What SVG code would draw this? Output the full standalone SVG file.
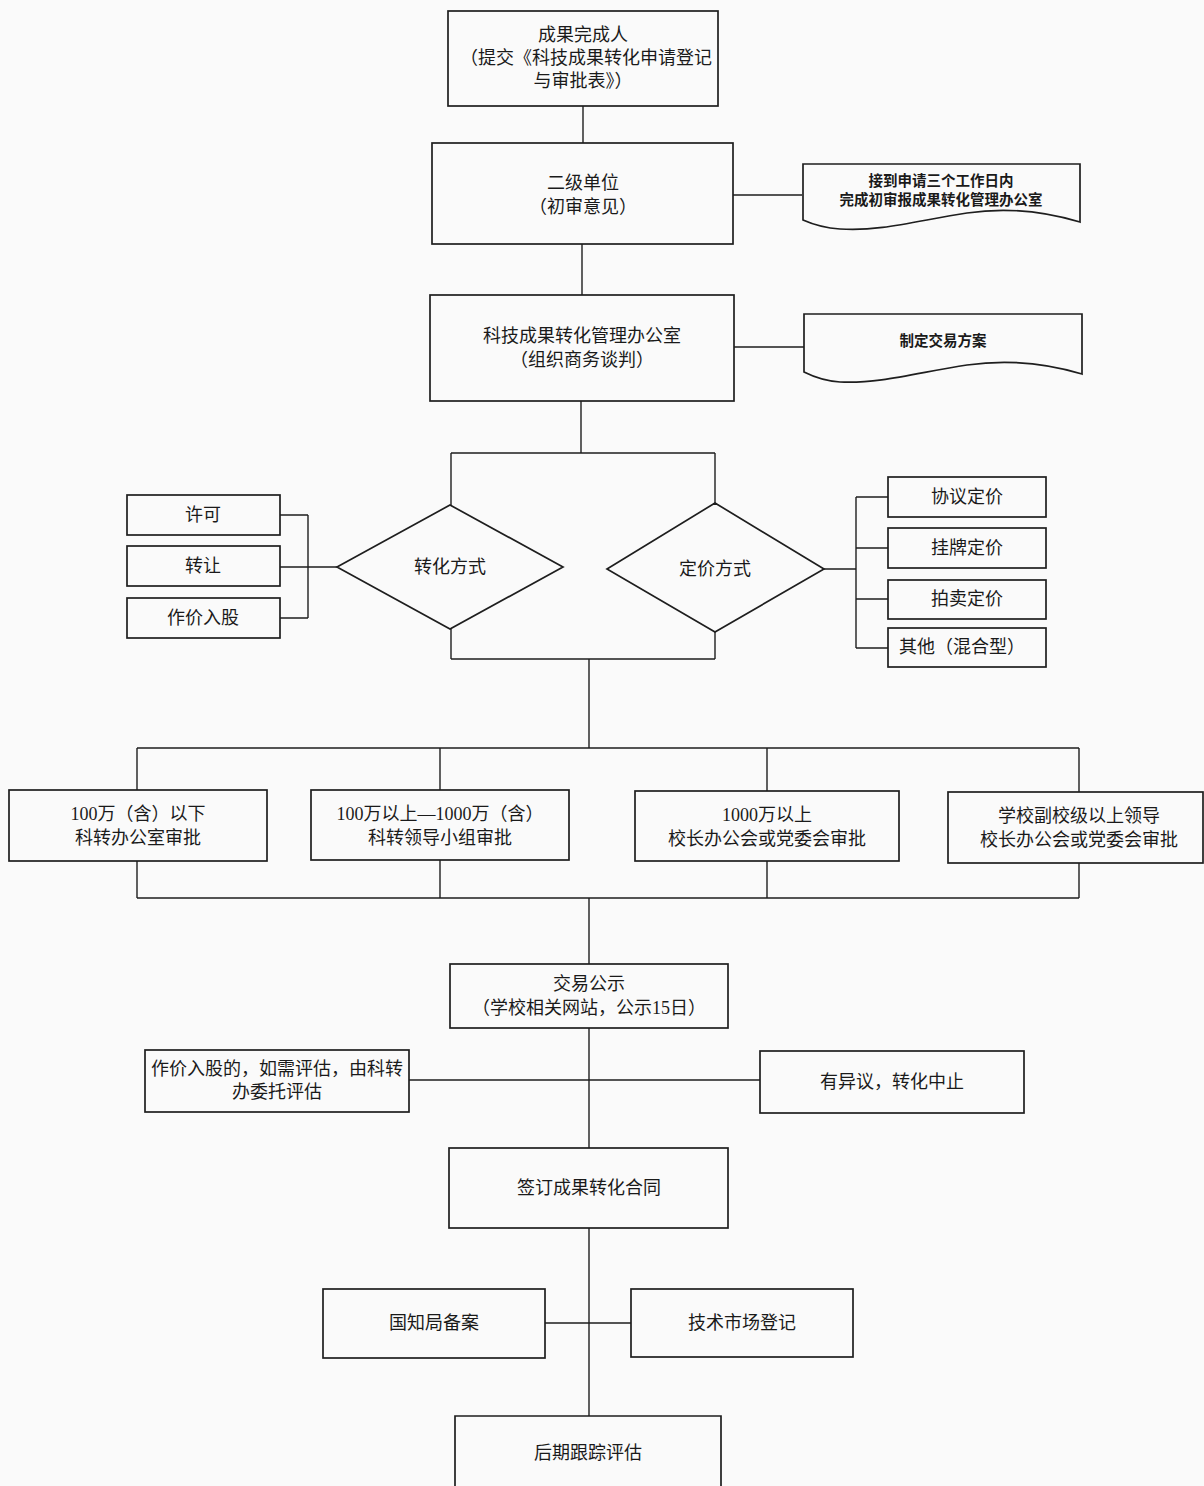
<svg xmlns="http://www.w3.org/2000/svg" width="1204" height="1486" viewBox="0 0 1204 1486">
<style>
.b{fill:none;stroke:#1e1e1e;stroke-width:1.7}
.c{fill:none;stroke:#1e1e1e;stroke-width:1.4}
text{font-family:"Liberation Serif","Noto Sans CJK SC",serif;fill:#1a1a1a;text-anchor:middle;dominant-baseline:central}
.t{font-size:18px}
.s{font-size:14.5px;font-weight:bold}
</style>
<rect width="1204" height="1486" fill="#fafafa"/>
<g id="connectors">
<path class="c" d="M583,106V143M582,244V295M733,195H802M734,347H804M581,401V453M451,453H715M451,453V506M715,453V504M451,629V659M715,632V659M451,659H715M589,659V748"/>
<path class="c" d="M280,515H308M280,567H308M280,618H308M308,515V618M308,567H337"/>
<path class="c" d="M888,497H856M888,548H856M888,599H856M888,648H856M856,497V648M824,569H856"/>
<path class="c" d="M137,748H1079M137,748V790M440,748V790M767,748V791M1079,748V792M137,861V898M440,860V898M767,861V898M1079,863V898M137,898H1079M589,898V964"/>
<path class="c" d="M589,1028V1148M409,1080H760M589,1228V1416M545,1323H631"/>
</g>
<g id="n1"><rect class="b" x="448" y="11" width="270" height="95"/><text class="t" x="583" y="35">成果完成人</text><text class="t" x="586" y="58">（提交《科技成果转化申请登记</text><text class="t" x="583" y="81">与审批表》）</text></g>
<g id="n2"><rect class="b" x="432" y="143" width="301" height="101"/><text class="t" x="583" y="183">二级单位</text><text class="t" x="583" y="207">（初审意见）</text></g>
<g id="d1"><path class="b" d="M803,164H1080V222C1040,210 1000,208 967,213C920,220 880,232 840,229C825,228 812,224 803,220Z"/><text class="s" x="941" y="181">接到申请三个工作日内</text><text class="s" x="941" y="200">完成初审报成果转化管理办公室</text></g>
<g id="n3"><rect class="b" x="430" y="295" width="304" height="106"/><text class="t" x="582" y="336">科技成果转化管理办公室</text><text class="t" x="582" y="360">（组织商务谈判）</text></g>
<g id="d2"><path class="b" d="M804,314H1082V374C1042,362 1002,360 967,365C920,372 880,384 840,382C825,381 812,376 804,372Z"/><text class="s" x="943" y="341">制定交易方案</text></g>
<g id="dia1"><polygon class="b" points="450,505 563,567 450,629 337,567"/><text class="t" x="450" y="567">转化方式</text></g>
<g id="dia2"><polygon class="b" points="715,503 824,569 715,632 607,569"/><text class="t" x="715" y="569">定价方式</text></g>
<g id="l1"><rect class="b" x="127" y="495" width="153" height="40"/><text class="t" x="203" y="515">许可</text></g>
<g id="l2"><rect class="b" x="127" y="546" width="153" height="40"/><text class="t" x="203" y="566">转让</text></g>
<g id="l3"><rect class="b" x="127" y="598" width="153" height="40"/><text class="t" x="203" y="618">作价入股</text></g>
<g id="r1"><rect class="b" x="888" y="477" width="158" height="40"/><text class="t" x="967" y="497">协议定价</text></g>
<g id="r2"><rect class="b" x="888" y="528" width="158" height="40"/><text class="t" x="967" y="548">挂牌定价</text></g>
<g id="r3"><rect class="b" x="888" y="580" width="158" height="39"/><text class="t" x="967" y="599">拍卖定价</text></g>
<g id="r4"><rect class="b" x="888" y="628" width="158" height="39"/><text class="t" x="962" y="647">其他（混合型）</text></g>
<g id="a1"><rect class="b" x="9" y="790" width="258" height="71"/><text class="t" x="138" y="814">100万（含）以下</text><text class="t" x="138" y="838">科转办公室审批</text></g>
<g id="a2"><rect class="b" x="311" y="790" width="258" height="70"/><text class="t" x="440" y="814">100万以上—1000万（含）</text><text class="t" x="440" y="838">科转领导小组审批</text></g>
<g id="a3"><rect class="b" x="635" y="791" width="264" height="70"/><text class="t" x="767" y="815">1000万以上</text><text class="t" x="767" y="839">校长办公会或党委会审批</text></g>
<g id="a4"><rect class="b" x="948" y="792" width="255" height="71"/><text class="t" x="1079" y="816">学校副校级以上领导</text><text class="t" x="1079" y="840">校长办公会或党委会审批</text></g>
<g id="n4"><rect class="b" x="450" y="964" width="278" height="64"/><text class="t" x="589" y="984">交易公示</text><text class="t" x="589" y="1008">（学校相关网站，公示15日）</text></g>
<g id="n5"><rect class="b" x="145" y="1050" width="264" height="62"/><text class="t" x="277" y="1069">作价入股的，如需评估，由科转</text><text class="t" x="277" y="1092">办委托评估</text></g>
<g id="n6"><rect class="b" x="760" y="1051" width="264" height="62"/><text class="t" x="892" y="1082">有异议，转化中止</text></g>
<g id="n7"><rect class="b" x="449" y="1148" width="279" height="80"/><text class="t" x="589" y="1188">签订成果转化合同</text></g>
<g id="n8"><rect class="b" x="323" y="1289" width="222" height="69"/><text class="t" x="434" y="1323">国知局备案</text></g>
<g id="n9"><rect class="b" x="631" y="1289" width="222" height="68"/><text class="t" x="742" y="1323">技术市场登记</text></g>
<g id="n10"><path class="b" d="M455,1490V1416H721V1490"/><text class="t" x="588" y="1453">后期跟踪评估</text></g>
</svg>
